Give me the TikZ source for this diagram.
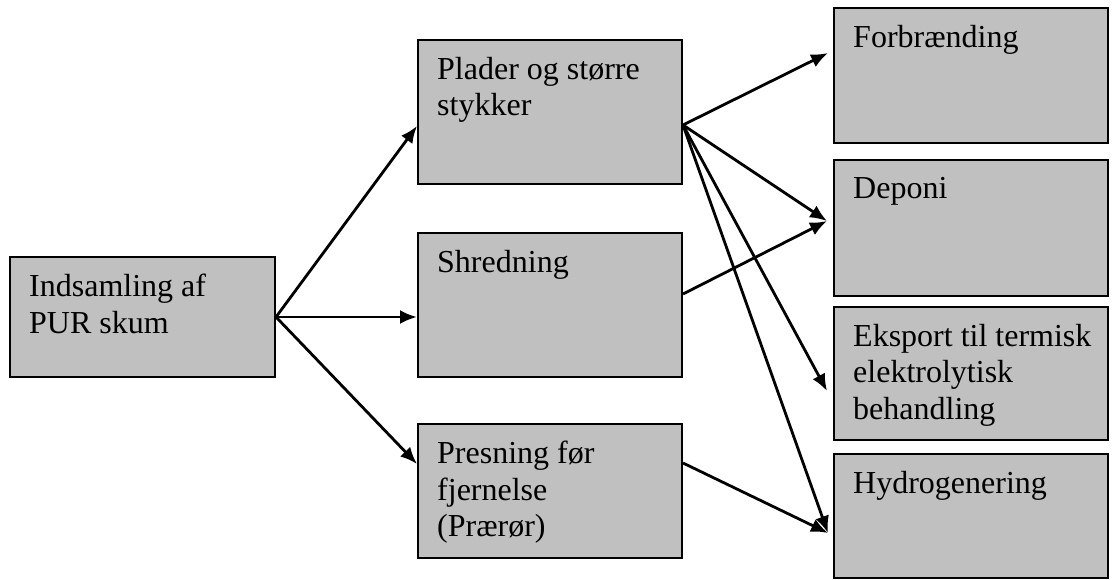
\documentclass[tikz,border=0pt]{standalone}
\usepackage{fontspec}
\setmainfont{Liberation Serif}
\usetikzlibrary{arrows.meta}
\definecolor{boxgray}{RGB}{192,192,192}
\newcommand{\boxfont}{\fontsize{32}{36.5}\selectfont}
\tikzset{
	box/.style={draw, line width=2pt, fill=boxgray, anchor=north west, inner sep=0pt},
	boxtext/.style={anchor=north west, align=left, inner xsep=20pt, inner ysep=18pt, font=\boxfont},
	flow/.style={line width=2.8pt, -{Latex[length=17pt,width=14pt]}}
}

\begin{document}
\begin{tikzpicture}[x=1pt, y=-1pt]
			\useasboundingbox (0,0) rectangle (1117,579);

			% Draw the boxes with their texts
			\node[box, minimum width=265pt, minimum height=120pt, label={[boxtext]north west:Indsamling af\\PUR skum}] (indsamling) at (9,256) {};
			\node[box, minimum width=264pt, minimum height=144pt, label={[boxtext]north west:Plader og større\\stykker}] (plader) at (417,39) {};
			\node[box, minimum width=264pt, minimum height=144pt, label={[boxtext]north west:Shredning}] (shredning) at (417,232) {};
			\node[box, minimum width=264pt, minimum height=134pt, label={[boxtext]north west:Presning før\\fjernelse\\(Prærør)}] (presning) at (417,423) {};
			\node[box, minimum width=274pt, minimum height=135pt, label={[boxtext]north west:Forbrænding}] (forbraending) at (833,7) {};
			\node[box, minimum width=274pt, minimum height=136pt, label={[boxtext]north west:Deponi}] (deponi) at (833,159) {};
			\node[box, minimum width=274pt, minimum height=133pt, label={[boxtext]north west:Eksport til termisk\\elektrolytisk\\behandling}] (eksport) at (833,306) {};
			\node[box, minimum width=274pt, minimum height=124pt, label={[boxtext]north west:Hydrogenering}] (hydrogenering) at (833,453) {};

			% Draw the arrows out of the collection
			\draw[flow] (indsamling.east) -- ([yshift=-14pt]plader.west);
			\draw[flow] (indsamling.east) -- ([yshift=-12pt]shredning.west);
			\draw[flow] (indsamling.east) -- ([yshift=27pt]presning.west);

			% Draw the arrows to the treatments
			\draw[flow] ([yshift=-13pt]plader.east) -- ([xshift=-5pt,yshift=22.5pt]forbraending.west);
			\draw[flow] ([yshift=-13pt]plader.east) -- ([xshift=-6pt,yshift=7pt]deponi.west);
			\draw[flow] ([yshift=-13pt]plader.east) -- ([xshift=-6pt,yshift=-17.5pt]eksport.west);
			\draw[flow] ([yshift=-13pt]plader.east) -- ([xshift=-5pt,yshift=-17pt]hydrogenering.west);
			\draw[flow] ([yshift=11pt]shredning.east) -- ([xshift=-6pt,yshift=7pt]deponi.west);
			\draw[flow] ([yshift=28pt]presning.east) -- ([xshift=-5pt,yshift=-17pt]hydrogenering.west);
\end{tikzpicture}
\end{document}
